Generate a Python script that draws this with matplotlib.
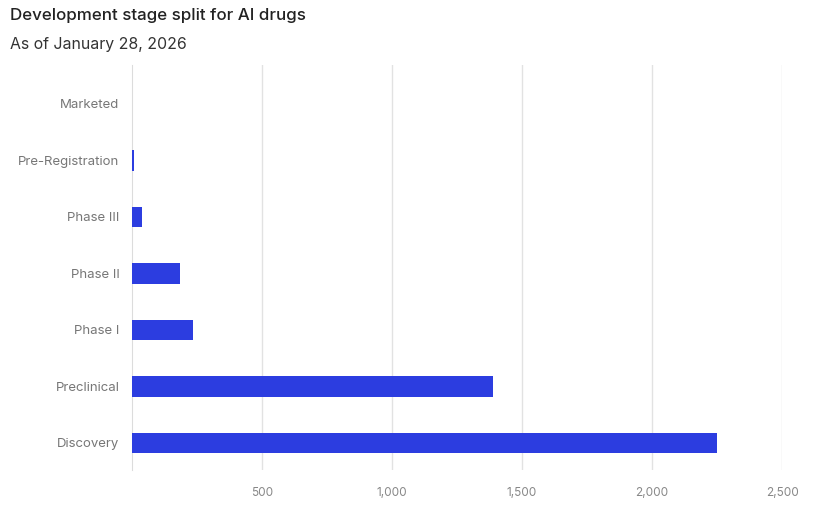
import matplotlib
matplotlib.use("Agg")
import matplotlib.pyplot as plt
from matplotlib.ticker import FuncFormatter

# data
stages = ["Marketed", "Pre-Registration", "Phase III", "Phase II",
          "Phase I", "Preclinical", "Discovery"]
counts = [1, 6, 38, 185, 235, 1388, 2250]
x_ticks = [500, 1000, 1500, 2000, 2500]

plt.rcParams['font.family'] = ['Inter', 'DejaVu Sans']

fig = plt.figure(figsize=(8.19, 5.09), dpi=100)
ax = fig.add_axes([0.1612, 0.0766, 0.7937, 0.7957])

y = list(range(len(stages)))
ax.barh(y, counts, height=0.36, color="#2c3de0", zorder=3)

ax.set_xlim(0, 2500)
ax.set_ylim(6.48, -0.69)
ax.set_yticks(y)
ax.set_yticklabels(stages)
ax.set_xticks(x_ticks)
ax.xaxis.set_major_formatter(FuncFormatter(lambda v, p: f"{int(v):,}"))

ax.grid(axis="x", color="#e2e2e2", linewidth=1, zorder=0)
for side in ["top", "right", "bottom"]:
    ax.spines[side].set_visible(False)
ax.spines["left"].set_color("#dcdcdc")
ax.tick_params(axis="both", length=0)
ax.tick_params(axis="y", pad=9, labelsize=9.5, labelcolor="#777777")
ax.tick_params(axis="x", pad=12, labelsize=8.5, labelcolor="#888888")

fig.text(0.012, 0.97, "Development stage split for AI drugs",
         fontsize=12.2, color="#222222", va="center", ha="left",
         fontweight="medium")
fig.text(0.012, 0.912, "As of January 28, 2026",
         fontsize=11.4, color="#333333", va="center", ha="left")

plt.savefig("out.png", dpi=100)
